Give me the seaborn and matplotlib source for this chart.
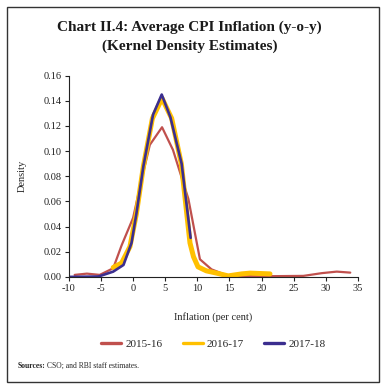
# import libraries
import pandas as pd
import matplotlib.pyplot as plt
import seaborn as sns
from matplotlib.patches import Rectangle

# Data (inflation in per cent, density)
x_1516 = [-9.1, -7.2, -5.2, -3.1, -1.8, 0.0, 1.3, 2.6, 4.5, 6.2, 8.6, 10.4, 12.2, 14.8, 20.0, 26.5, 29.4, 31.7, 33.8]
y_1516 = [0.0016, 0.0026, 0.0016, 0.0069, 0.025, 0.047, 0.077, 0.105, 0.119, 0.101, 0.062, 0.014, 0.006, 0.0008, 0.0005, 0.0008, 0.003, 0.0042, 0.0034]

x_1617 = [-3.1, -1.8, -0.5, 0.5, 1.6, 3.0, 4.5, 6.0, 7.5, 8.85, 9.4, 10.1, 11.4, 13.0, 14.8, 16.9, 18.2, 21.3]
y_1617 = [0.0075, 0.011, 0.024, 0.05, 0.088, 0.126, 0.142, 0.126, 0.090, 0.027, 0.016, 0.008, 0.0048, 0.003, 0.0008, 0.0024, 0.003, 0.0024]

x_1718 = [-10.0, -5.4, -3.1, -1.5, -0.25, 0.5, 1.6, 3.1, 4.45, 5.8, 7.55, 8.95]
y_1718 = [0.0, 0.0003, 0.0042, 0.0095, 0.027, 0.05, 0.088, 0.129, 0.145, 0.127, 0.090, 0.031]

series = ["2015-16", "2016-17", "2017-18"]
colors = ["#c0504d", "#ffc000", "#3b2e8f"]
widths = [1.6, 3.6, 1.9]

df = pd.concat([
    pd.DataFrame({"x": x_1516, "y": y_1516, "year": series[0]}),
    pd.DataFrame({"x": x_1617, "y": y_1617, "year": series[1]}),
    pd.DataFrame({"x": x_1718, "y": y_1718, "year": series[2]}),
])

sns.set_theme(style="ticks")
plt.rcParams["font.family"] = ["Liberation Serif", "DejaVu Serif"]
plt.rcParams["axes.unicode_minus"] = False

fig = plt.figure(figsize=(3.87, 3.90), dpi=100)
ax = fig.add_axes([0.178, 0.290, 0.747, 0.516])

for i, name in enumerate(series):
    sub = df[df["year"] == name]
    sns.lineplot(data=sub, x="x", y="y", color=colors[i], linewidth=widths[i],
                 sort=False, label=name, ax=ax)

ax.set_xlim(-10, 35)
ax.set_ylim(0, 0.16)
ax.set_xticks(range(-10, 36, 5))
ax.set_yticks([i * 0.02 for i in range(9)])
ax.set_yticklabels([f"{i * 0.02:.2f}" for i in range(9)])
ax.tick_params(labelsize=7.5, length=3, width=0.8, pad=2, colors="#222222")
for s in ["left", "bottom"]:
    ax.spines[s].set_linewidth(0.8)
    ax.spines[s].set_color("#222222")
sns.despine(ax=ax)

ax.set_xlabel("Inflation (per cent)", fontsize=7.5, labelpad=14)
ax.set_ylabel("Density", fontsize=7.5, labelpad=12)

leg = ax.legend(loc="center", bbox_to_anchor=(0.5, -0.333), ncol=3, frameon=False,
                fontsize=8, handlelength=1.8, handletextpad=0.4, columnspacing=1.8)
for line in leg.get_lines():
    line.set_linewidth(2.4)

fig.text(0.49, 0.93, "Chart II.4: Average CPI Inflation (y-o-y)", ha="center", va="center",
         fontsize=11, fontweight="bold", color="#1a1a1a")
fig.text(0.49, 0.882, "(Kernel Density Estimates)", ha="center", va="center",
         fontsize=11, fontweight="bold", color="#1a1a1a")

# sources line: bold label followed by plain text
src = fig.text(0.045, 0.062, "Sources:", fontsize=5.5, fontweight="bold", va="center")
fig.canvas.draw()
bb = src.get_window_extent().transformed(fig.transFigure.inverted())
fig.text(bb.x1 + 0.006, 0.062, "CSO; and RBI staff estimates.", fontsize=5.5, va="center")

# outer frame
fig.add_artist(Rectangle((0.018, 0.02), 0.962, 0.962, transform=fig.transFigure,
                         fill=False, edgecolor="#333333", linewidth=1.0))

plt.savefig("out.png", dpi=100)
